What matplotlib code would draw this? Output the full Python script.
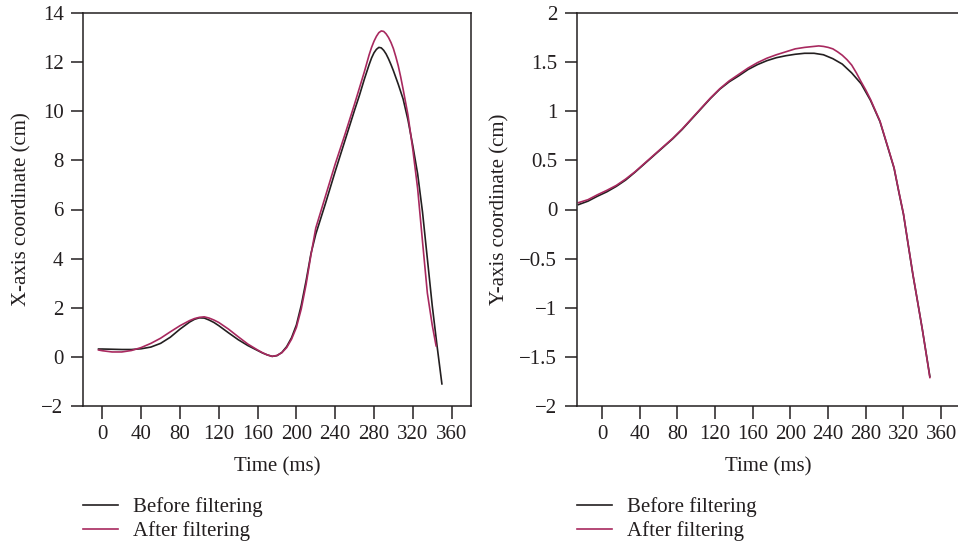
import matplotlib
matplotlib.use("Agg")
import matplotlib.pyplot as plt
from matplotlib.lines import Line2D

# ---------------- data ----------------
x_t_before = [-4, 0, 10, 20, 30, 40, 50, 60, 70, 80, 90, 95, 100, 105, 110, 115, 120, 130,
              140, 150, 160, 165, 170, 175, 180, 185, 190, 195, 200, 205, 210, 215, 220,
              230, 240, 250, 260, 265, 270, 275, 277.5, 280, 282.5, 285, 287.5, 290, 292.5,
              295, 297.5, 300, 305, 310, 315, 320, 325, 330, 335, 340, 345, 350]
x_before = [0.32, 0.32, 0.31, 0.30, 0.30, 0.33, 0.40, 0.55, 0.80, 1.13, 1.42, 1.53, 1.59,
            1.58, 1.50, 1.40, 1.27, 0.98, 0.70, 0.46, 0.26, 0.16, 0.08, 0.02, 0.05, 0.18,
            0.42, 0.78, 1.30, 2.10, 3.10, 4.20, 5.00, 6.25, 7.55, 8.80, 10.05, 10.65, 11.30,
            11.90, 12.17, 12.38, 12.52, 12.60, 12.58, 12.48, 12.33, 12.13, 11.90, 11.65,
            11.10, 10.50, 9.65, 8.60, 7.45, 5.90, 4.00, 2.10, 0.45, -1.10]

x_t_after = [-4, 0, 10, 20, 30, 40, 50, 60, 70, 80, 90, 95, 100, 105, 110, 115, 120, 130,
             140, 150, 160, 165, 170, 175, 180, 185, 190, 195, 200, 205, 210, 215, 220, 230,
             240, 250, 260, 265, 270, 275, 277.5, 280, 282.5, 285, 287.5, 290, 292.5, 295,
             297.5, 300, 302.5, 305, 307.5, 310, 315, 320, 325, 330, 335, 340, 344]
x_after = [0.28, 0.25, 0.20, 0.20, 0.26, 0.38, 0.55, 0.76, 1.02, 1.27, 1.48, 1.56, 1.61, 1.63,
           1.58, 1.50, 1.40, 1.13, 0.82, 0.52, 0.28, 0.17, 0.08, 0.02, 0.06, 0.17, 0.38,
           0.72, 1.20, 1.95, 2.95, 4.15, 5.25, 6.55, 7.85, 9.05, 10.30, 10.95, 11.60, 12.30,
           12.60, 12.85, 13.05, 13.20, 13.27, 13.25, 13.15, 13.00, 12.80, 12.55, 12.22,
           11.85, 11.40, 10.90, 9.85, 8.45, 6.85, 4.70, 2.60, 1.30, 0.45]

y_t_before = [-25, -15, -5, 5, 15, 25, 35, 45, 55, 65, 75, 85, 95, 105, 115, 125, 135, 145,
              155, 165, 175, 185, 195, 205, 215, 225, 235, 245, 255, 265, 275, 285, 295,
              305, 310, 315, 320, 325, 330, 335, 340, 345, 348]
y_before = [0.05, 0.085, 0.135, 0.18, 0.235, 0.30, 0.38, 0.465, 0.55, 0.635, 0.72, 0.815,
            0.92, 1.025, 1.13, 1.225, 1.30, 1.36, 1.425, 1.475, 1.515, 1.545, 1.565, 1.58,
            1.59, 1.59, 1.575, 1.535, 1.48, 1.39, 1.28, 1.11, 0.895, 0.58, 0.42, 0.18,
            -0.05, -0.36, -0.665, -0.94, -1.22, -1.52, -1.70]

y_t_after = [-25, -15, -5, 5, 15, 25, 35, 45, 55, 65, 75, 85, 95, 105, 115, 125, 135, 145,
             155, 165, 175, 185, 195, 205, 215, 225, 230, 235, 240, 245, 250, 255, 260, 265,
             270, 275, 280, 285, 295, 305, 310, 315, 320, 325, 330, 335, 340, 345, 348]
y_after = [0.07, 0.10, 0.15, 0.195, 0.245, 0.31, 0.385, 0.47, 0.555, 0.64, 0.725, 0.82,
           0.925, 1.03, 1.135, 1.23, 1.31, 1.375, 1.44, 1.495, 1.54, 1.575, 1.605, 1.635,
           1.65, 1.66, 1.665, 1.66, 1.65, 1.635, 1.605, 1.57, 1.525, 1.47, 1.39, 1.30,
           1.215, 1.12, 0.90, 0.585, 0.425, 0.185, -0.045, -0.355, -0.66, -0.94, -1.22,
           -1.525, -1.71]

x_ticks = [0, 40, 80, 120, 160, 200, 240, 280, 320, 360]
left_yticks = [-2, 0, 2, 4, 6, 8, 10, 12, 14]
right_yticks = [-2, -1.5, -1, -0.5, 0, 0.5, 1, 1.5, 2]
right_ytick_labels = ["\u22122", "\u22121.5", "\u22121", "\u22120.5", "0", "0.5", "1", "1.5", "2"]
legend_labels = ["Before filtering", "After filtering"]

# ---------------- style ----------------
INK = "#231f20"
PURPLE = "#a8295f"
FS = 15
plt.rcParams["font.family"] = ["Liberation Serif", "DejaVu Serif"]
plt.rcParams["text.color"] = INK
plt.rcParams["axes.labelcolor"] = INK
plt.rcParams["xtick.color"] = INK
plt.rcParams["ytick.color"] = INK

W, H = 958, 552
fig = plt.figure(figsize=(W / 100, H / 100), dpi=100)

def fx(px):
    return px / W

def fy(py):
    return 1 - py / H

axL = fig.add_axes([fx(83), fy(406), fx(471) - fx(83), fy(13) - fy(406)])
axR = fig.add_axes([fx(576.7), fy(406), fx(960) - fx(576.7), fy(13) - fy(406)])

for ax in (axL, axR):
    for s in ax.spines.values():
        s.set_color(INK)
        s.set_linewidth(1.1)
    ax.tick_params(direction="out", length=9, width=1.1, labelsize=FS, pad=5)
    ax.set_xticks(x_ticks)
    ax.set_xlabel("Time (ms)", fontsize=FS, labelpad=9)

axL.plot(x_t_before, x_before, color=INK, lw=1.2, label=legend_labels[0])
axL.plot(x_t_after, x_after, color=PURPLE, lw=1.2, label=legend_labels[1])
axL.set_xlim(-20, 380)
axL.set_ylim(-2, 14)
axL.set_yticks(left_yticks)
axL.set_ylabel("X-axis coordinate (cm)", fontsize=FS, labelpad=7)

axR.plot(y_t_before, y_before, color=INK, lw=1.2, label=legend_labels[0])
axR.plot(y_t_after, y_after, color=PURPLE, lw=1.2, label=legend_labels[1])
axR.set_xlim(-27, 380)
axR.set_ylim(-2, 2)
axR.set_yticks(right_yticks)
axR.set_yticklabels(right_ytick_labels)
axR.set_ylabel("Y-axis coordinate (cm)", fontsize=FS, labelpad=7)

for ax, lx in ((axL, 83), (axR, 577)):
    handles = [Line2D([], [], color=INK, lw=1.2), Line2D([], [], color=PURPLE, lw=1.2)]
    fig.legend(handles, legend_labels, loc="upper left",
               bbox_to_anchor=(fx(lx), fy(497)), bbox_transform=fig.transFigure,
               frameon=False, fontsize=FS, handlelength=1.7, handletextpad=0.7,
               labelspacing=0.2, borderpad=0, borderaxespad=0)

fig.savefig("out.png", dpi=100)
